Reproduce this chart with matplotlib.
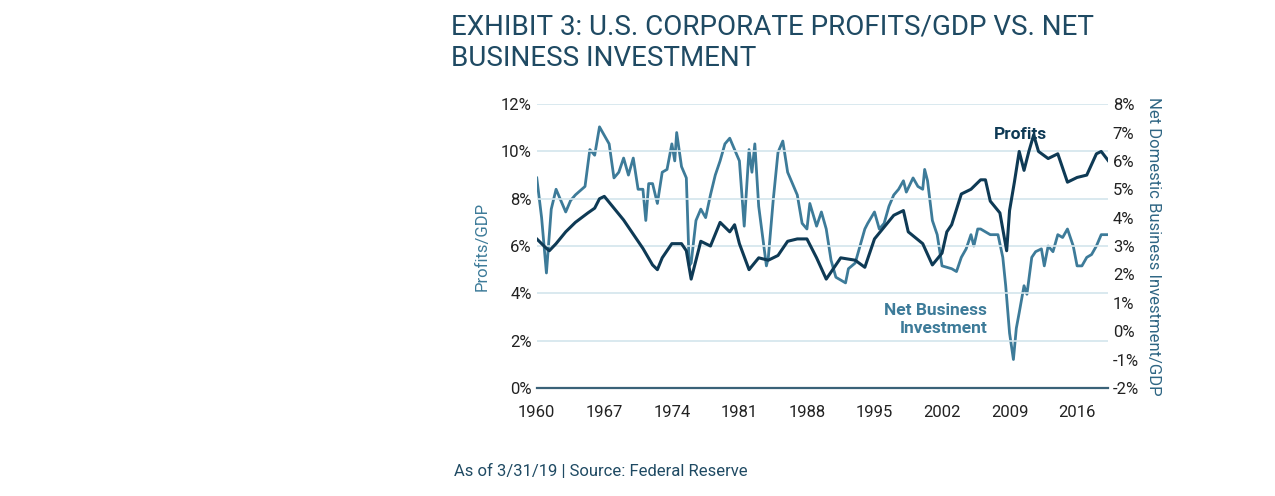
import matplotlib
matplotlib.use("Agg")
import matplotlib.pyplot as plt
import matplotlib.ticker as ticker

plt.rcParams["font.family"] = ["Roboto", "DejaVu Sans"]

_NAVY = "#0e3a55"
_TEAL = "#3d7b99"
_GRID = "#d3e5ec"
_TEXT = "#1f4a63"

# Corporate profits / GDP (left axis, %)
profit_years = [1960, 1961, 1961.3, 1962, 1963, 1964, 1965.3, 1966, 1966.5, 1967, 1968,
                1969, 1970, 1971, 1972, 1972.5, 1973, 1974, 1975, 1975.5, 1976, 1977,
                1978, 1979, 1980, 1980.5, 1981, 1982, 1983, 1984, 1985, 1986, 1987,
                1988, 1989, 1990, 1991.5, 1993, 1994, 1995, 1996, 1997, 1998, 1998.5,
                2000, 2001, 2002, 2002.5, 2003, 2004, 2005, 2006, 2006.5, 2007, 2008,
                2008.7, 2009, 2009.5, 2010, 2010.5, 2011, 2011.5, 2012, 2013, 2014,
                2015, 2016, 2017, 2018, 2018.5, 2019.25]
profit_vals = [6.3, 5.9, 5.8, 6.1, 6.6, 7.0, 7.4, 7.6, 8.0, 8.1, 7.6,
               7.1, 6.5, 5.9, 5.2, 5.0, 5.5, 6.1, 6.1, 5.8, 4.6, 6.2,
               6.0, 7.0, 6.6, 6.9, 6.1, 5.0, 5.5, 5.4, 5.6, 6.2, 6.3,
               6.3, 5.5, 4.6, 5.5, 5.4, 5.1, 6.3, 6.8, 7.3, 7.5, 6.6,
               6.1, 5.2, 5.7, 6.6, 6.9, 8.2, 8.4, 8.8, 8.8, 7.9, 7.4,
               5.8, 7.5, 8.7, 10.0, 9.2, 10.0, 10.7, 10.0, 9.7, 9.9,
               8.7, 8.9, 9.0, 9.9, 10.0, 9.6]

# Net domestic business investment / GDP (right axis, %)
invest_years = [1960, 1960.5, 1961, 1961.5, 1962, 1962.5, 1963, 1963.5, 1964, 1965,
                1965.5, 1966, 1966.5, 1967, 1967.5, 1968, 1968.5, 1969, 1969.5, 1970,
                1970.5, 1971, 1971.3, 1971.6, 1972, 1972.5, 1973, 1973.5, 1974, 1974.3,
                1974.5, 1975, 1975.5, 1975.8, 1976, 1976.5, 1977, 1977.5, 1978, 1978.5,
                1979, 1979.5, 1980, 1980.5, 1981, 1981.5, 1982, 1982.3, 1982.6, 1983,
                1983.8, 1984, 1984.5, 1985, 1985.5, 1986, 1986.5, 1987, 1987.5, 1988,
                1988.3, 1989, 1989.5, 1990, 1990.5, 1991, 1992, 1992.3, 1993, 1994,
                1994.3, 1995, 1995.5, 1996, 1996.5, 1997, 1997.5, 1998, 1998.3, 1999,
                1999.5, 2000, 2000.2, 2000.5, 2001, 2001.5, 2002, 2003, 2003.5, 2004,
                2004.5, 2005, 2005.3, 2005.7, 2006, 2007, 2007.8, 2008.3, 2008.6, 2009,
                2009.4, 2009.7, 2010, 2010.5, 2010.8, 2011.3, 2011.7, 2012.3, 2012.6,
                2013, 2013.5, 2014, 2014.5, 2015, 2015.6, 2016, 2016.5, 2017, 2017.5,
                2018, 2018.5, 2019.25]
invest_vals = [5.4, 4.0, 2.05, 4.3, 5.0, 4.6, 4.2, 4.6, 4.8, 5.1,
               6.4, 6.2, 7.2, 6.9, 6.6, 5.4, 5.6, 6.1, 5.5, 6.1,
               5.0, 5.0, 3.9, 5.2, 5.2, 4.5, 5.6, 5.7, 6.6, 6.0,
               7.0, 5.8, 5.4, 2.3, 2.4, 3.9, 4.3, 4.0, 4.8, 5.5,
               6.0, 6.6, 6.8, 6.4, 6.0, 3.7, 6.4, 5.6, 6.6, 4.4,
               2.3, 2.6, 4.6, 6.3, 6.7, 5.6, 5.2, 4.8, 3.8, 3.6,
               4.5, 3.7, 4.2, 3.6, 2.5, 1.9, 1.7, 2.2, 2.4, 3.6,
               3.8, 4.2, 3.6, 3.8, 4.4, 4.8, 5.0, 5.3, 4.9, 5.4,
               5.1, 5.0, 5.7, 5.3, 3.9, 3.4, 2.3, 2.2, 2.1, 2.6,
               2.9, 3.4, 3.0, 3.6, 3.6, 3.4, 3.4, 2.6, 1.6, -0.07,
               -1.0, 0.1, 0.65, 1.6, 1.3, 2.6, 2.8, 2.9, 2.3,
               3.0, 2.8, 3.4, 3.3, 3.6, 3.0, 2.3, 2.3, 2.6, 2.7,
               3.0, 3.4, 3.4]

fig = plt.figure(figsize=(12.75, 4.96), dpi=100, facecolor="white")
ax = fig.add_axes([0.421, 0.218, 0.448, 0.572])
ax2 = ax.twinx()

ax.plot(profit_years, profit_vals, color=_NAVY, lw=2.2, zorder=3)
ax2.plot(invest_years, invest_vals, color=_TEAL, lw=2.0, zorder=2)
ax.set_zorder(ax2.get_zorder() + 1)
ax.patch.set_visible(False)

ax.set_xlim(1960, 2019.2)
ax.set_ylim(0, 12)
ax2.set_ylim(-2, 8)
ax.set_xticks(range(1960, 2020, 7))
ax.set_yticks(range(0, 13, 2))
ax2.set_yticks(range(-2, 9, 1))
ax.yaxis.set_major_formatter(ticker.FuncFormatter(lambda v, _: f"{v:.0f}%"))
ax2.yaxis.set_major_formatter(ticker.FuncFormatter(lambda v, _: f"{v:.0f}%"))
ax.grid(axis="y", color=_GRID, lw=1.2)
ax.set_axisbelow(True)

for a in (ax, ax2):
    for s in a.spines.values():
        s.set_visible(False)
    a.tick_params(length=0, labelsize=12, colors="#222222")
ax.spines["bottom"].set_visible(True)
ax.spines["bottom"].set_color("#3a6278")
ax.spines["bottom"].set_linewidth(1.6)
ax.tick_params(axis="x", pad=12)

ax.set_ylabel("Profits/GDP", color=_TEAL, fontsize=12, labelpad=8)
ax2.set_ylabel("Net Domestic Business Investment/GDP", color="#2f6684",
               fontsize=12, rotation=270, labelpad=16)

ax.text(2012.9, 10.4, "Profits", color=_NAVY, fontsize=12.5, fontweight="bold",
        ha="right", va="bottom")
ax.text(2006.7, 2.9, "Net Business\nInvestment", color=_TEAL, fontsize=12.5,
        fontweight="bold", ha="right", va="center", linespacing=1.3)

fig.text(0.354, 0.855, "EXHIBIT 3: U.S. CORPORATE PROFITS/GDP VS. NET\nBUSINESS INVESTMENT",
         color=_TEXT, fontsize=20, ha="left", va="bottom", linespacing=1.2)
fig.text(0.356, 0.035, "As of 3/31/19 | Source: Federal Reserve", color=_TEXT,
         fontsize=12, ha="left", va="bottom")

fig.savefig("out.png", dpi=100, facecolor="white")
